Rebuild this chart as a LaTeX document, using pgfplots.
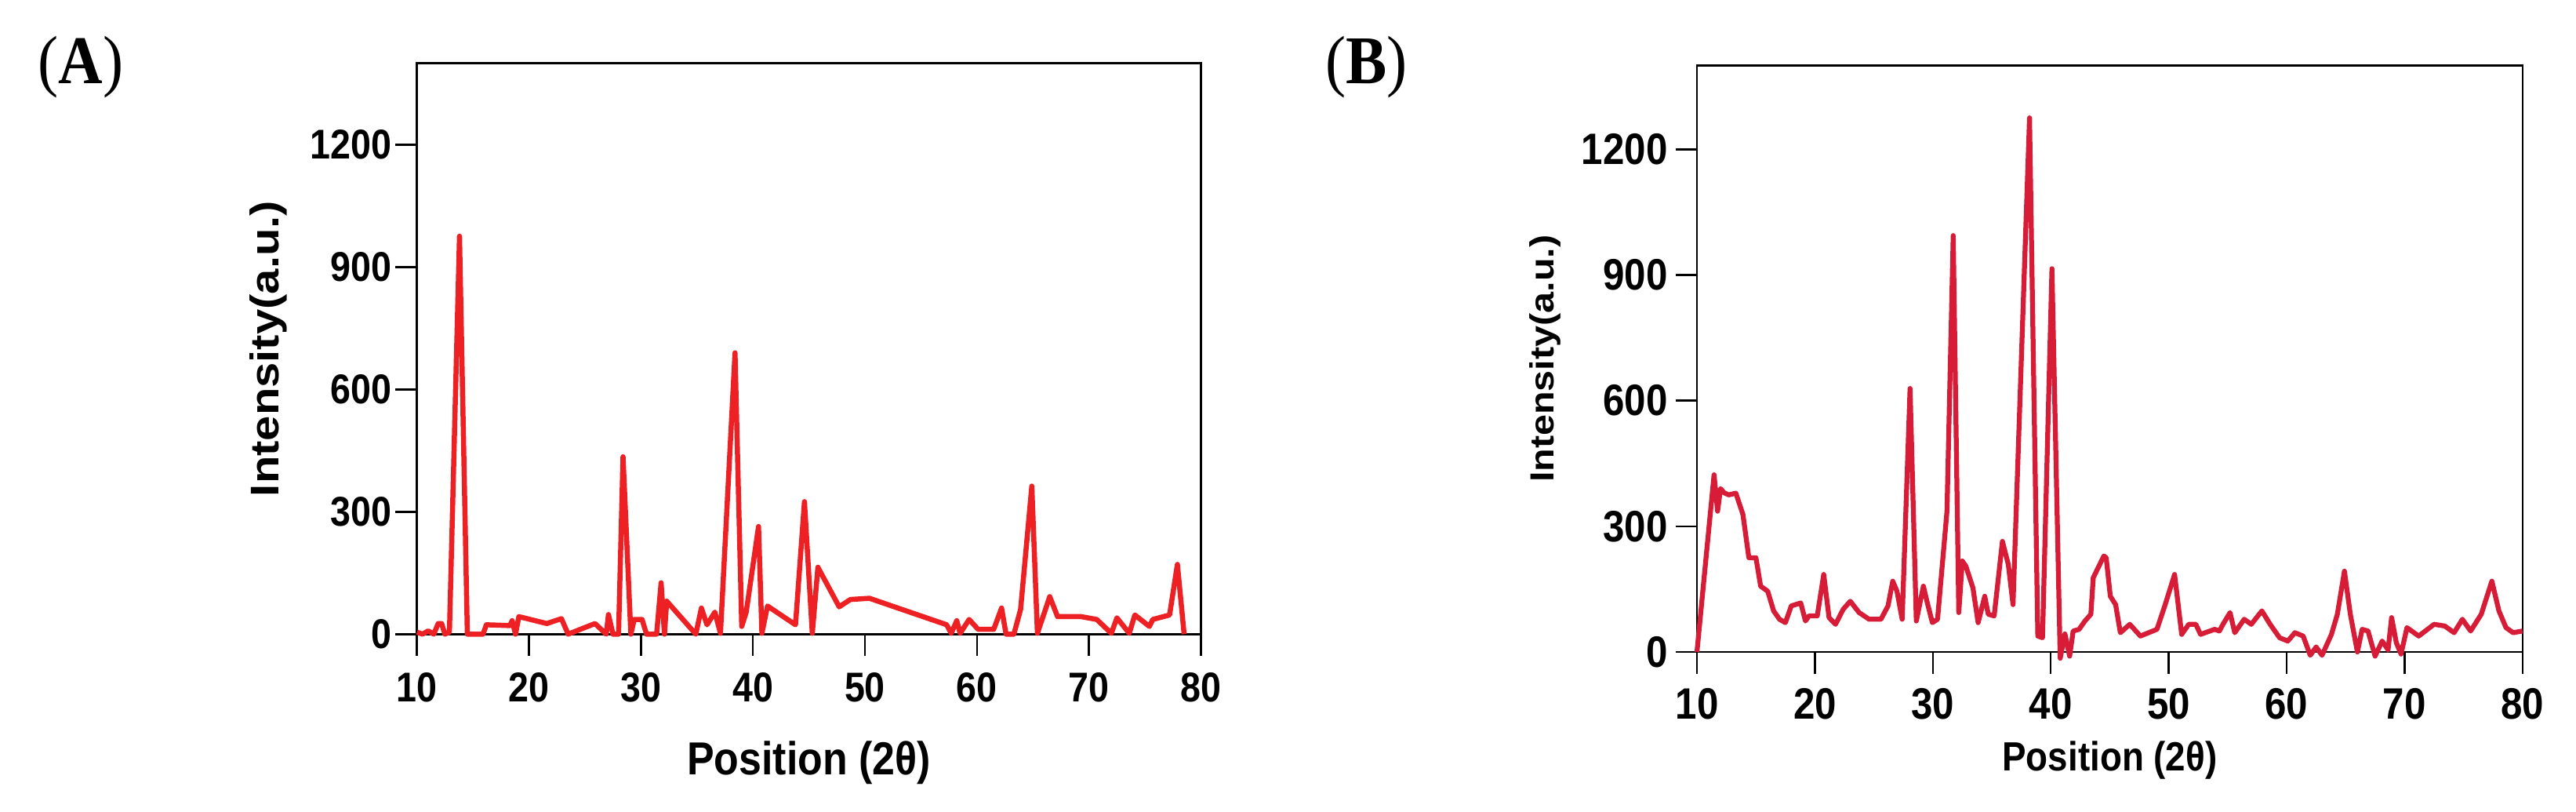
\documentclass[border=0pt]{standalone}
\usepackage{graphicx}
\usepackage{pgfplots}
\pgfplotsset{compat=1.18}
\usepackage{fontspec}
\setmainfont{Liberation Sans}
\newfontfamily\narrow{Liberation Sans}[FakeStretch=0.88]
\newfontfamily\serifn{Liberation Serif}[FakeStretch=0.9]
\definecolor{redA}{RGB}{237,32,36}
\definecolor{redB}{RGB}{214,28,54}
\pgfplotsset{
  xrd/.style={
    scale only axis,
    xmin=10, xmax=80, xtick={10,20,...,80},
    ymin=0, ymax=1400, ytick={0,300,600,900,1200},
    tick align=outside, xtick pos=lower, ytick pos=left,
    major tick length=5.5pt,
    axis line style={line width=0.5pt, black},
    major tick style={line width=0.5pt, black},
    /pgf/number format/assume math mode=true,
    /pgf/number format/1000 sep={},
    clip=false,
    every axis plot/.append style={line join=round, mark=none},
  }
}
\begin{document}
\begin{tikzpicture}
\path[use as bounding box] (0,0) rectangle (657pt,206.8pt);
\node[anchor=base west, inner sep=0pt, font=\serifn\fontsize{17.4}{19}\selectfont] at (9.56pt,185.6pt) {(\textbf{A})};
\node[anchor=base west, inner sep=0pt, font=\serifn\fontsize{17.4}{19}\selectfont] at (337.8pt,185.6pt) {(\textbf{B})};
% Panel A
\begin{axis}[xrd,
  at={(106.34pt,45.14pt)}, anchor=south west,
  width=199.96pt, height=145.52pt,
  ticklabel style={font=\narrow\bfseries\fontsize{10.6}{12.5}\selectfont},
  xticklabel style={anchor=base, yshift=-11.64pt},
  yticklabel style={anchor=east, inner sep=0pt, xshift=-0.7pt},
  xlabel={Position (2θ)},
  ylabel={\scalebox{1}[0.88]{Intensity(a.u.)}},
  xlabel style={font=\narrow\bfseries\fontsize{11.8}{14}\selectfont,
    at={(axis description cs:0.5,-0.2456)}, anchor=base},
  ylabel style={font=\bfseries\fontsize{11.6}{14}\selectfont,
    at={(axis description cs:-0.1897,0.5)}, anchor=center},
]
\addplot[color=redA, line width=1.3pt] coordinates {
(10,5) (10.5,0) (11,8) (11.5,0) (11.9,26) (12.2,26) (12.5,0) (12.9,5)
(13.8,976) (14.5,0) (15.9,0) (16.2,23) (18.3,21) (18.5,33) (18.8,0)
(19.1,43) (21.6,26) (22.9,38) (23.5,0) (25.9,26) (26.9,0) (27.1,48)
(27.5,0) (28.0,0) (28.4,435) (29.1,0) (29.4,36) (30.1,36) (30.5,0)
(31.4,0) (31.8,126) (32.1,0) (32.3,81) (34.9,0) (35.4,64) (35.9,23)
(36.6,54) (37.1,2) (38.4,690) (39.0,19) (39.4,54) (40.5,264) (40.8,2)
(41.3,69) (43.8,23) (44.6,325) (45.3,2) (45.8,164) (47.7,67) (48.7,85)
(50.4,88) (57.3,23) (57.7,2) (58.2,33) (58.5,2) (59.3,36) (60.1,12)
(61.5,12) (62.2,64) (62.6,0) (63.3,0) (63.9,61) (64.9,363) (65.4,2)
(66.5,92) (67.2,43) (69.3,43) (70.7,36) (72.0,2) (72.5,40) (73.6,2)
(74.1,47) (75.4,19) (75.7,36) (77.2,47) (77.9,171) (78.5,0)
};
\end{axis}
% Panel B
\begin{axis}[xrd,
  at={(432.8pt,40.6pt)}, anchor=south west,
  width=210.56pt, height=149.5pt,
  ticklabel style={font=\narrow\bfseries\fontsize{11.2}{13}\selectfont},
  xticklabel style={anchor=base, yshift=-11.5pt},
  yticklabel style={anchor=east, inner sep=0pt, xshift=-1.8pt},
  xlabel={Position (2θ)},
  ylabel={\scalebox{1}[0.88]{Intensity(a.u.)}},
  xlabel style={font=\narrow\bfseries\fontsize{10.4}{12.5}\selectfont,
    at={(axis description cs:0.5,-0.202)}, anchor=base},
  ylabel style={font=\bfseries\fontsize{9.7}{12}\selectfont,
    at={(axis description cs:-0.1843,0.5)}, anchor=center},
]
\addplot[color=redB, line width=1.25pt] coordinates {
(10,0) (11.45,423) (11.75,336) (12.0,390) (12.3,380) (12.7,375) (13.3,379)
(13.9,328) (14.4,225) (15.0,225) (15.4,157) (16.0,145) (16.5,98) (17.0,78)
(17.5,70) (18.0,110) (18.8,117) (19.2,74) (19.5,86) (20.2,86) (20.75,185)
(21.2,82) (21.75,66) (22.4,102) (23.0,121) (23.75,94) (24.6,78) (25.6,78)
(26.2,110) (26.6,169) (26.96,145) (27.4,78) (28.07,629) (28.6,74) (29.2,157)
(29.5,121) (29.96,70) (30.4,78) (31.2,336) (31.73,994) (32.2,94) (32.5,217)
(32.8,205) (33.4,153) (33.84,70) (34.4,133) (34.7,90) (35.2,86) (35.9,264)
(36.4,209) (36.8,113) (38.2,1275) (38.9,38) (39.3,34) (40.1,915) (40.8,-15)
(41.2,43) (41.6,-10) (41.9,50) (42.4,54) (42.9,74) (43.4,90) (43.6,177)
(44.5,229) (44.7,225) (45.05,133) (45.5,113) (45.9,46) (46.7,66) (47.6,38)
(49.0,54) (49.7,113) (50.5,185) (51.1,42) (51.7,66) (52.3,66) (52.7,42)
(53.9,54) (54.3,50) (54.6,66) (55.2,94) (55.6,46) (56.4,78) (57.0,66)
(57.9,98) (58.6,66) (59.4,34) (60.1,26) (60.7,46) (61.4,38) (62.0,-8)
(62.5,12) (63.0,-8) (63.8,42) (64.3,90) (64.9,193) (65.4,90) (66.0,0)
(66.4,54) (66.9,50) (67.5,-10) (68.1,26) (68.6,5) (68.9,82) (69.3,22)
(69.7,-5) (70.2,58) (71.2,38) (72.5,66) (73.4,62) (74.2,46) (74.9,78)
(75.6,50) (76.5,90) (77.4,169) (78.0,98) (78.6,58) (79.2,46) (80,50)
};
\end{axis}
\end{tikzpicture}
\end{document}
